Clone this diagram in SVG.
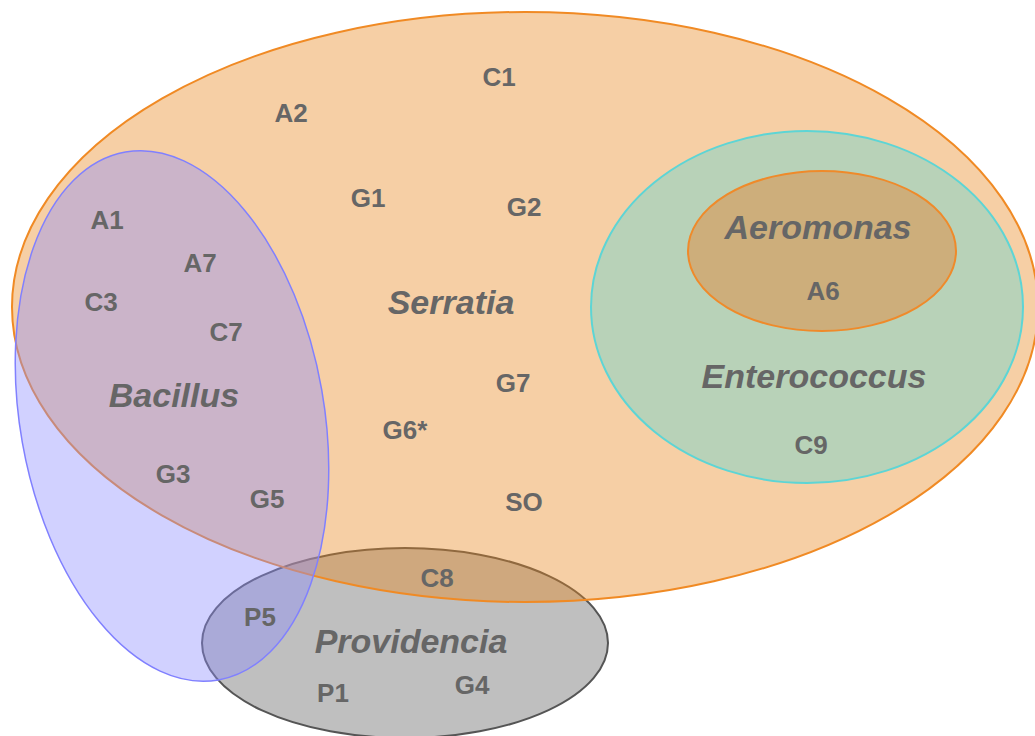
<svg xmlns="http://www.w3.org/2000/svg" width="1035" height="736" viewBox="0 0 1035 736">
<style>
.lbl{font-family:"Liberation Sans",Arial,sans-serif;font-weight:bold;font-size:26px;fill:#666;text-anchor:middle}
.big{font-family:"Liberation Sans",Arial,sans-serif;font-weight:bold;font-style:italic;font-size:34px;fill:#666;text-anchor:middle}
</style>
<rect width="1035" height="736" fill="#ffffff"/>
<g id="providencia">
<ellipse cx="405" cy="643" rx="203" ry="95" fill="#808080" fill-opacity="0.5" stroke="#555" stroke-width="2"/>
</g>
<g id="serratia">
<ellipse cx="525" cy="307" rx="513" ry="295" fill="#e8871e" fill-opacity="0.4" stroke="#f08a24" stroke-width="2"/>
</g>
<g id="enterococcus">
<ellipse cx="807" cy="307" rx="216" ry="176" fill="#b8d2b8" stroke="#5dd5d5" stroke-width="2"/>
</g>
<g id="aeromonas">
<ellipse cx="822" cy="251" rx="134" ry="80" fill="#cdae7b" stroke="#ef8a2a" stroke-width="2"/>
</g>
<g id="bacillus">
<ellipse cx="172" cy="416" rx="152" ry="268" transform="rotate(-10 172 416)" fill="#8c8cff" fill-opacity="0.4" stroke="#8080ff" stroke-width="1.5"/>
</g>
<g id="set-labels">
<text class="big" x="451" y="314">Serratia</text>
<text class="big" x="174" y="407">Bacillus</text>
<text class="big" x="818" y="239">Aeromonas</text>
<text class="big" x="814" y="388">Enterococcus</text>
<text class="big" x="411" y="653">Providencia</text>
</g>
<g id="members">
<text class="lbl" x="499" y="86">C1</text>
<text class="lbl" x="291" y="122">A2</text>
<text class="lbl" x="368" y="207">G1</text>
<text class="lbl" x="524" y="216">G2</text>
<text class="lbl" x="107" y="229">A1</text>
<text class="lbl" x="200" y="272">A7</text>
<text class="lbl" x="101" y="311">C3</text>
<text class="lbl" x="226" y="341">C7</text>
<text class="lbl" x="513" y="392">G7</text>
<text class="lbl" x="405" y="439">G6*</text>
<text class="lbl" x="173" y="483">G3</text>
<text class="lbl" x="267" y="508">G5</text>
<text class="lbl" x="524" y="511">SO</text>
<text class="lbl" x="437" y="587">C8</text>
<text class="lbl" x="260" y="626">P5</text>
<text class="lbl" x="333" y="702">P1</text>
<text class="lbl" x="472" y="694">G4</text>
<text class="lbl" x="823" y="300">A6</text>
<text class="lbl" x="811" y="454">C9</text>
</g>
</svg>
